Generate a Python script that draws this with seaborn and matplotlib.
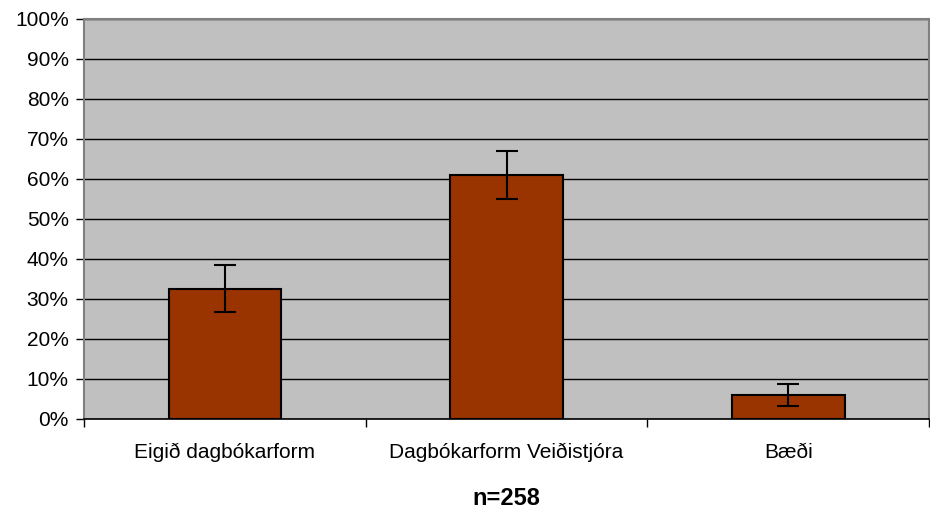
import matplotlib
matplotlib.use("Agg")
import matplotlib.pyplot as plt
import seaborn as sns
import pandas as pd
from matplotlib.ticker import FuncFormatter

categories = ["Eigið dagbókarform", "Dagbókarform Veiðistjóra", "Bæði"]
values = [32.6, 61.0, 6.0]
errors = [5.8, 6.0, 2.8]
yticks = [0, 10, 20, 30, 40, 50, 60, 70, 80, 90, 100]
xlabel = "n=258"

sns.set_theme(style="white")
plt.rcParams['font.family'] = ['Liberation Sans', 'DejaVu Sans']
plt.rcParams['text.color'] = 'black'
plt.rcParams['xtick.color'] = 'black'
plt.rcParams['ytick.color'] = 'black'
plt.rcParams['axes.labelcolor'] = 'black'

df = pd.DataFrame({"cat": categories, "val": values})

fig = plt.figure(figsize=(9.3, 5.09), dpi=100)
ax = fig.add_axes([84/930, 1 - 419/509, (929-84)/930, (419-19)/509])
ax.set_facecolor("#C0C0C0")

sns.barplot(data=df, x="cat", y="val", color="#993300", width=0.4,
            edgecolor="black", linewidth=1.5, saturation=1, ax=ax, zorder=3)
ax.errorbar(range(len(categories)), values, yerr=errors, fmt="none",
            ecolor="black", elinewidth=1.5, capsize=8, capthick=1.5, zorder=4)

ax.set_ylim(0, 100)
ax.set_xlim(-0.5, 2.5)
ax.set_yticks(yticks)
ax.yaxis.set_major_formatter(FuncFormatter(lambda v, p: f"{int(v)}%"))
ax.grid(axis="y", color="black", linewidth=1.0, zorder=1)
ax.set_axisbelow(True)

# category boundary ticks on x axis
ax.set_xticks([-0.5, 0.5, 1.5, 2.5], minor=False)
ax.set_xticklabels([])
ax.set_xticks([0, 1, 2], minor=True)
ax.set_xticklabels(categories, minor=True, fontsize=15)
ax.tick_params(axis="x", which="minor", length=0, pad=17, labelcolor="black")
ax.tick_params(axis="x", which="major", length=6, width=1, color="black", direction="out")
ax.tick_params(axis="y", length=6, width=1, color="black", direction="out",
               labelsize=15, pad=5, labelcolor="black")
ax.tick_params(bottom=True, left=True)

for s in ["top", "right", "left"]:
    ax.spines[s].set_color("#808080")
    ax.spines[s].set_linewidth(1.5)
ax.spines["bottom"].set_color("black")
ax.spines["bottom"].set_linewidth(1.2)

ax.set_ylabel("")
ax.set_xlabel(xlabel, fontsize=17, fontweight="bold", labelpad=18, color="black")

fig.savefig("out.png", dpi=100)
